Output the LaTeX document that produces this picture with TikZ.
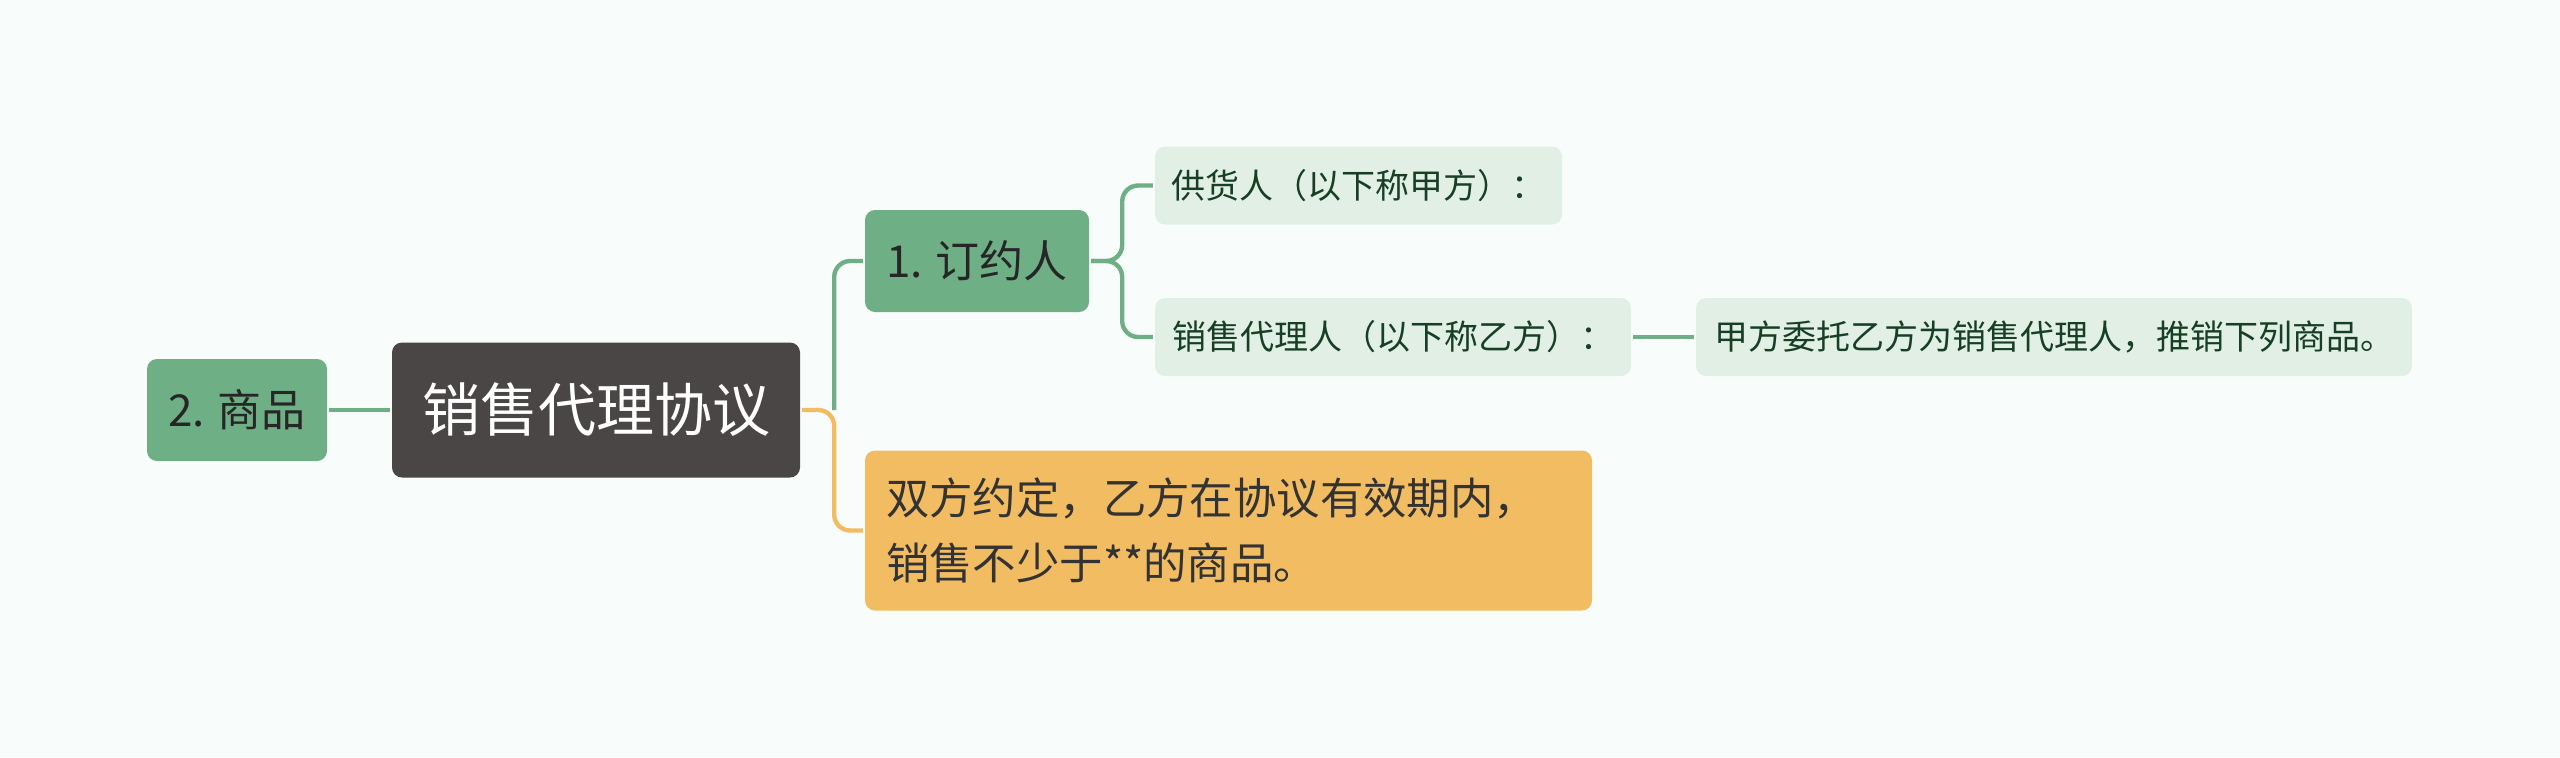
\documentclass[tikz,border=0pt]{standalone}
\usepackage{fontspec}
\setmainfont{Noto Sans CJK SC}
\definecolor{bgcol}{HTML}{F8FDFC}
\definecolor{rootcol}{HTML}{4B4646}
\definecolor{greencol}{HTML}{6FAF86}
\definecolor{lightcol}{HTML}{E2EFE5}
\definecolor{orangecol}{HTML}{F2BC63}
\definecolor{darkgreen}{HTML}{173F24}

\begin{document}
\begin{tikzpicture}[x=0.5pt,y=-0.5pt,line width=2.2pt]
                \tikzstyle{box}=[rectangle,rounded corners=5pt,inner sep=0pt]
                \tikzstyle{root}=[box,fill=rootcol,text=white,minimum width=204pt,minimum height=67.5pt,font=\fontsize{29pt}{34pt}\selectfont]
                \tikzstyle{topic}=[box,fill=greencol,text=black!85,minimum height=51pt,font=\fontsize{22pt}{26pt}\selectfont]
                \tikzstyle{leaf}=[box,fill=lightcol,text=darkgreen,minimum height=39pt,font=\fontsize{17pt}{21pt}\selectfont]
                \tikzstyle{note}=[box,fill=orangecol,text=black!80,inner xsep=10.5pt,text width=342.5pt,align=left,minimum height=80pt,font=\fontsize{21.7pt}{32.5pt}\selectfont]
                \tikzstyle{edge}=[draw=greencol,rounded corners=8pt]
                \fill[bgcol] (0,0) rectangle (2560,757);
                \useasboundingbox (0,0) rectangle (2560,757);
                        \node[root] (N-0) at (596,410){销售代理协议};
                        \node[topic,minimum width=112pt] (N-1) at (977,261){1. 订约人};
                        \node[leaf,minimum width=203.5pt] (N-11) at (1358.5,185.5){供货人（以下称甲方）：};
                        \node[leaf,minimum width=238pt] (N-12) at (1393,337){销售代理人（以下称乙方）：};
                        \node[leaf,minimum width=358pt] (N-121) at (2054,337){甲方委托乙方为销售代理人，推销下列商品。};
                        \node[note] (N-2) at (1228.5,530.5){双方约定，乙方在协议有效期内，\\销售不少于**的商品。};
                        \node[topic,minimum width=90pt] (N-3) at (237,410){2. 商品};

                    \draw[edge,draw=orangecol] (N-0.east) -- ++(32,0) |- (N-2.west);
                    \draw[edge] (N-0.east) ++(32,0) |- (N-1.west);
                    \foreach \to in {11, 12}
                        \draw[edge] (N-1.east) -- ++(31,0) |- (N-\to.west);
                    \draw[edge] (N-12) -- (N-121);
                    \draw[edge] (N-3) -- (N-0);
            \end{tikzpicture}
\end{document}
